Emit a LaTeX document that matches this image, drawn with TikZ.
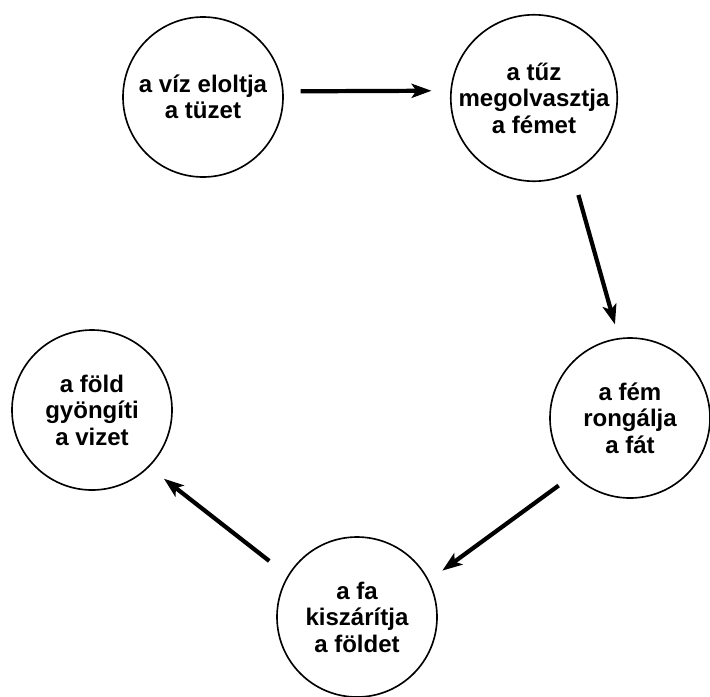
\documentclass[tikz,border=0pt]{standalone}
\usepackage{fontspec}
\setmainfont{Liberation Sans}
\usepackage{tikz}
\usetikzlibrary{positioning,arrows.meta}

\begin{document}
\begin{tikzpicture}[x=0.03cm,y=-0.03cm,
      every node/.style={draw,circle},
      kor/.style={line width=1.4pt,minimum size=4.8cm,inner sep=0pt,align=center,
        font=\bfseries\fontsize{20.5}{22.6}\selectfont},
      nyil/.style={line width=3.6pt,-{Stealth[length=17pt,width=12pt,inset=4pt]}}
    ]
    \useasboundingbox (0,0) rectangle (710,696);

    % the five circles
    \node[kor] (viz) at (203,97) {a víz eloltja\\a tüzet};
    \node[kor] (tuz) at (534,98) {a tűz\\megolvasztja\\a fémet};
    \node[kor] (fem) at (630,418) {a fém\\rongálja\\a fát};
    \node[kor] (fa) at (357,617) {a fa\\kiszárítja\\a földet};
    \node[kor] (fold) at (92,410) {a föld\\gyöngíti\\a vizet};

    % the arrows
    \draw[nyil,shorten <=14.5pt,shorten >=16pt] (viz.4) -- (tuz.175);
    \draw[nyil,shorten <=19.6pt,shorten >=12pt] (tuz.-63) -- (fem.98);
    \draw[nyil,shorten <=15pt,shorten >=14pt] (fem.225) -- (fa.27);
    \draw[nyil,shorten <=20pt,shorten >=16pt] (fa.149) -- (fold.-45);
\end{tikzpicture}
\end{document}
